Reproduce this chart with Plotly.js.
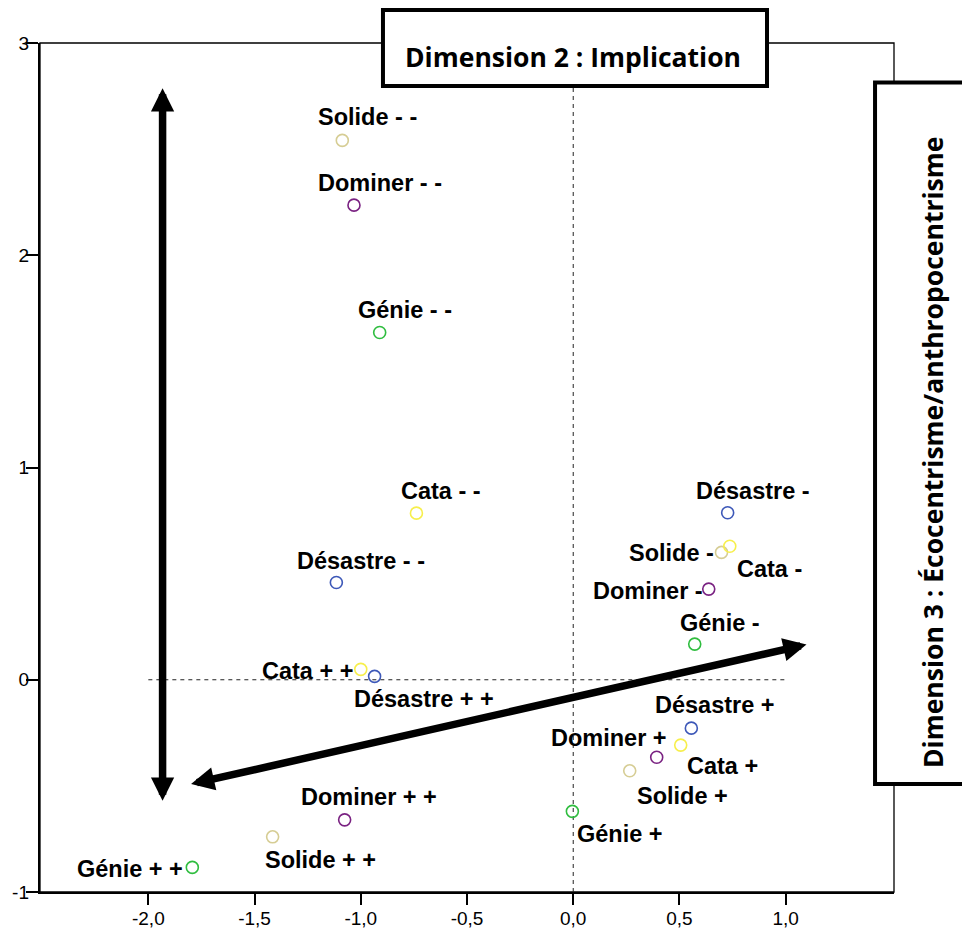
<!DOCTYPE html>
<html>
<head>
<meta charset="utf-8">
<script src="https://cdn.plot.ly/plotly-3.0.1.min.js"></script>
<style>html,body{margin:0;padding:0;background:#fff;}#chart{width:962px;height:929px;}</style>
</head>
<body>
<div id="chart"></div>
<script>
// ---- data ----
const pointLabels = [
  'Solide - -','Dominer - -','Génie - -','Cata - -','Désastre - -',
  'Cata + +','Désastre + +','Dominer + +','Solide + +','Génie + +',
  'Génie +','Solide +','Dominer +','Cata +','Désastre +',
  'Désastre -','Solide -','Cata -','Dominer -','Génie -'
];
const pointGroups = [
  'Solide','Dominer','Génie','Cata','Désastre',
  'Cata','Désastre','Dominer','Solide','Génie',
  'Génie','Solide','Dominer','Cata','Désastre',
  'Désastre','Solide','Cata','Dominer','Génie'
];
const dim2Values = [
  -1.087,-1.032,-0.911,-0.738,-1.115,
  -1.000,-0.935,-1.076,-1.415,-1.793,
  -0.004, 0.266, 0.393, 0.506, 0.556,
   0.727, 0.698, 0.737, 0.638, 0.572
];
const dim3Values = [
   2.541, 2.236, 1.636, 0.785, 0.458,
   0.049, 0.016,-0.660,-0.740,-0.884,
  -0.620,-0.429,-0.365,-0.308,-0.228,
   0.787, 0.600, 0.629, 0.427, 0.168
];
const groupNames = ['Solide','Dominer','Génie','Cata','Désastre'];
const xTickValues = [-2.0,-1.5,-1.0,-0.5,0.0,0.5,1.0];
const xTickLabels = ['-2,0','-1,5','-1,0','-0,5','0,0','0,5','1,0'];
const yTickValues = [-1,0,1,2,3];
const yTickLabels = ['-1','0','1','2','3'];
const xTitle = 'Dimension 2 : Implication';
const yTitle = 'Dimension 3 : Écocentrisme/anthropocentrisme';

// ---- styles ----
const groupColors = {
  'Solide':'#d6cd94', 'Dominer':'#7a2282', 'Génie':'#2fbd3f',
  'Cata':'#f7ef4c', 'Désastre':'#3d58b8'
};
// label offsets in screen pixels [dx, dy] (dy positive = downwards)
const labelOffsets = [
  [25,-24],[26,-23],[25,-24],[25,-23],[25,-23],
  [-53,1],[49,22],[24,-24],[48,22],[-62,1],
  [48,22],[53,24],[-48,-20],[42,20],[24,-24],
  [25,-23],[-50,0],[40,22],[-61,1],[25,-22]
];

const traces = groupNames.map(g => {
  const xs = [], ys = [];
  pointGroups.forEach((pg,i) => { if (pg === g) { xs.push(dim2Values[i]); ys.push(dim3Values[i]); } });
  return {
    type:'scatter', mode:'markers', x:xs, y:ys, name:g, hoverinfo:'skip',
    marker:{symbol:'circle-open', size:12, color:groupColors[g], line:{width:1.6, color:groupColors[g]}}
  };
});

const labelFont = {family:'Liberation Sans, Arial, sans-serif', size:23.5, color:'#000', weight:'bold'};
const annotations = pointLabels.map((t,i) => ({
  x:dim2Values[i], y:dim3Values[i], xref:'x', yref:'y', text:t, showarrow:false,
  xanchor:'center', yanchor:'middle', xshift:labelOffsets[i][0], yshift:-labelOffsets[i][1] - 1,
  font:labelFont
}));

// double arrows
const arrowStyle = {text:'', showarrow:true, arrowcolor:'#000', arrowwidth:7.5,
  arrowhead:2, arrowsize:0.62, startarrowhead:2, startarrowsize:0.62, arrowside:'end+start',
  xref:'x', yref:'y', axref:'x', ayref:'y'};
annotations.push(Object.assign({}, arrowStyle, {x:-1.933, y:2.787, ax:-1.933, ay:-0.577}));
annotations.push(Object.assign({}, arrowStyle, {x:1.098, y:0.166, ax:-1.806, ay:-0.493}));

const titleFont = {family:'Open Sans, sans-serif', size:26.5, color:'#000', weight:'bold'};
annotations.push({xref:'paper', yref:'paper', x:0.6247, y:0.9835, text:xTitle, showarrow:false,
  xanchor:'center', yanchor:'middle', font:titleFont});
annotations.push({xref:'paper', yref:'paper', x:1.0457, y:0.5171, text:yTitle, showarrow:false,
  textangle:-90, xanchor:'center', yanchor:'middle', font:titleFont});

const shapes = [
  {type:'rect', xref:'paper', yref:'paper', x0:0, x1:1, y0:0, y1:1, line:{color:'#000', width:1.3}, layer:'below'},
  {type:'line', xref:'x', yref:'y', x0:0, x1:0, y0:-1, y1:3, line:{color:'#222', width:1, dash:'4px,4px'}, layer:'below'},
  {type:'line', xref:'x', yref:'y', x0:-2, x1:1, y0:0, y1:0, line:{color:'#222', width:1, dash:'4px,4px'}, layer:'below'},
  {type:'rect', xref:'paper', yref:'paper', x0:0.4016, x1:0.8513, y0:0.9494, y1:1.0389,
    line:{color:'#000', width:4}, fillcolor:'#fff', layer:'above'},
  {type:'rect', xref:'paper', yref:'paper', x0:0.9778, x1:1.11, y0:0.1272, y1:0.9535,
    line:{color:'#000', width:4}, fillcolor:'#fff', layer:'above'}
];

const tickFont = {family:'Liberation Sans, Arial, sans-serif', size:19, color:'#000'};
const layout = {
  width:962, height:929,
  margin:{l:40, r:68, t:43, b:37, pad:0},
  paper_bgcolor:'#fff', plot_bgcolor:'#fff',
  showlegend:false,
  xaxis:{range:[-2.51,1.51], tickvals:xTickValues, ticktext:xTickLabels, showgrid:false, zeroline:false,
    showline:true, linecolor:'#000', linewidth:2.2, ticks:'outside', ticklen:11, tickwidth:2, tickcolor:'#000',
    tickfont:tickFont, ticklabelstandoff:-3, fixedrange:true},
  yaxis:{range:[-1,3], tickvals:yTickValues, ticktext:yTickLabels, showgrid:false, zeroline:false,
    showline:true, linecolor:'#000', linewidth:2.2, ticks:'outside', ticklen:12, tickwidth:2, tickcolor:'#000',
    tickfont:tickFont, ticklabelstandoff:-7, fixedrange:true},
  shapes:shapes,
  annotations:annotations
};
Plotly.newPlot('chart', traces, layout, {displayModeBar:false, staticPlot:true});
</script>
</body>
</html>
